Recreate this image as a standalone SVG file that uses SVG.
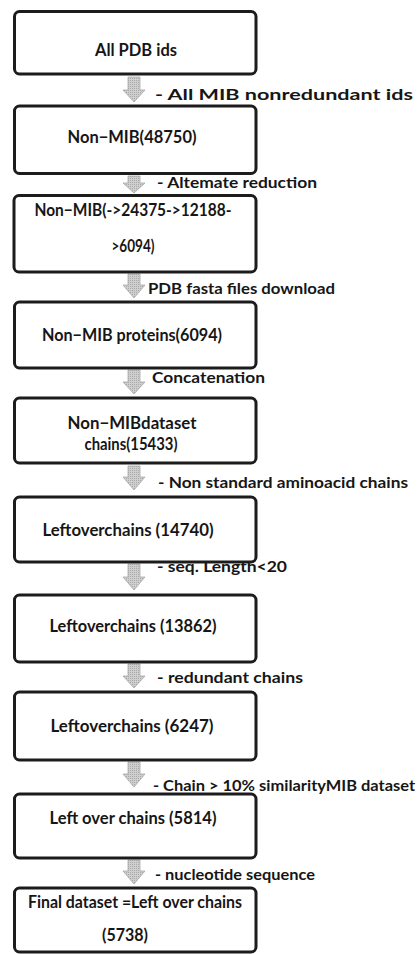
<svg xmlns="http://www.w3.org/2000/svg" width="417" height="954" viewBox="0 0 417 954">
  <style>
    .box { fill: #ffffff; stroke: #1c1c1c; stroke-width: 3; }
    .bt { font-family: Lato, "Open Sans", "Liberation Sans", sans-serif; font-weight: 700; font-size: 16.5px; fill: #161616; text-anchor: middle; }
    .lt { font-family: Lato, "Open Sans", "Liberation Sans", sans-serif; font-weight: 700; font-size: 15px; fill: #161616; }
    .arrow { fill: url(#stipple); stroke: #a8a8a8; stroke-width: 0.8; }
  </style>
  <defs>
    <pattern id="stipple" width="2" height="2" patternUnits="userSpaceOnUse">
      <rect width="2" height="2" fill="#cfcfcf"/>
      <rect width="1" height="1" fill="#a9a9a9"/>
    </pattern>
  </defs>
  <rect width="417" height="954" fill="#ffffff"/>

  <!-- block arrows between the steps, with their step labels -->
  <g id="connectors">
    <path class="arrow" d="M128,77 H140 V90 H145 L134,102 L123,90 H128 Z"/>
    <path class="arrow" d="M128,176 H140 V183 H145 L134,193 L123,183 H128 Z"/>
    <path class="arrow" d="M128,274 H140 V285 H145 L134,298 L123,285 H128 Z"/>
    <path class="arrow" d="M128,370 H140 V382 H145 L134,394 L123,382 H128 Z"/>
    <path class="arrow" d="M128,466 H140 V477 H145 L134,490 L123,477 H128 Z"/>
    <path class="arrow" d="M128,564 H140 V577 H145 L134,590 L123,577 H128 Z"/>
    <path class="arrow" d="M128,664 H140 V676 H145 L134,688 L123,676 H128 Z"/>
    <path class="arrow" d="M128,762 H140 V774 H145 L134,787 L123,774 H128 Z"/>
    <path class="arrow" d="M128,860 H140 V871 H145 L134,884 L123,871 H128 Z"/>

    <text class="lt" x="155" y="100" textLength="258" lengthAdjust="spacingAndGlyphs">-  All  MIB   nonredundant ids</text>
    <text class="lt" x="157" y="188" textLength="160" lengthAdjust="spacingAndGlyphs">- Altemate reduction</text>
    <text class="lt" x="148" y="294" textLength="187" lengthAdjust="spacingAndGlyphs">PDB   fasta files download</text>
    <text class="lt" x="152" y="383" textLength="113" lengthAdjust="spacingAndGlyphs">Concatenation</text>
    <text class="lt" x="158" y="488" textLength="250" lengthAdjust="spacingAndGlyphs">-  Non standard aminoacid chains</text>
    <text class="lt" x="157" y="572" textLength="130" lengthAdjust="spacingAndGlyphs">- seq. Length&lt;20</text>
    <text class="lt" x="157" y="683" textLength="146" lengthAdjust="spacingAndGlyphs">-  redundant chains</text>
    <text class="lt" x="153" y="791" textLength="262" lengthAdjust="spacingAndGlyphs">- Chain &gt; 10%  similarityMIB dataset</text>
    <text class="lt" x="155" y="880" textLength="160" lengthAdjust="spacingAndGlyphs">- nucleotide sequence</text>
  </g>

  <g id="all-pdb-ids">
    <rect class="box" x="14.5" y="11.5" width="241.5" height="62.5" rx="5"/>
    <text class="bt" x="136" y="56" textLength="82" lengthAdjust="spacingAndGlyphs">All PDB ids</text>
  </g>

  <g id="non-mib-48750">
    <rect class="box" x="14.5" y="106" width="241.5" height="67.5" rx="5"/>
    <text class="bt" x="132" y="143" textLength="129" lengthAdjust="spacingAndGlyphs">Non−MIB(48750)</text>
  </g>

  <g id="non-mib-reduced">
    <rect class="box" x="14" y="195.5" width="242" height="76.5" rx="5"/>
    <text class="bt" x="133" y="216" textLength="197" lengthAdjust="spacingAndGlyphs">Non−MIB(-&gt;24375-&gt;12188-</text>
    <text class="bt" x="133" y="252" textLength="43" lengthAdjust="spacingAndGlyphs">&gt;6094)</text>
  </g>

  <g id="non-mib-proteins">
    <rect class="box" x="14.5" y="302" width="241.5" height="66" rx="5"/>
    <text class="bt" x="132" y="341" textLength="180" lengthAdjust="spacingAndGlyphs">Non−MIB proteins(6094)</text>
  </g>

  <g id="non-mib-dataset">
    <rect class="box" x="14.5" y="398" width="241.5" height="65" rx="5"/>
    <text class="bt" x="132" y="429" textLength="129" lengthAdjust="spacingAndGlyphs">Non−MIBdataset</text>
    <text class="bt" x="131" y="450" textLength="93" lengthAdjust="spacingAndGlyphs">chains(15433)</text>
  </g>

  <g id="leftover-14740">
    <rect class="box" x="14.5" y="497" width="241.5" height="65" rx="5"/>
    <text class="bt" x="128" y="536" textLength="171" lengthAdjust="spacingAndGlyphs">Leftoverchains (14740)</text>
  </g>

  <g id="leftover-13862">
    <rect class="box" x="14.5" y="595" width="241.5" height="67" rx="5"/>
    <text class="bt" x="133" y="632" textLength="167" lengthAdjust="spacingAndGlyphs">Leftoverchains (13862)</text>
  </g>

  <g id="leftover-6247">
    <rect class="box" x="14.5" y="692" width="241.5" height="68" rx="5"/>
    <text class="bt" x="132" y="732" textLength="163" lengthAdjust="spacingAndGlyphs">Leftoverchains (6247)</text>
  </g>

  <g id="leftover-5814">
    <rect class="box" x="14.5" y="794" width="241.5" height="64" rx="5"/>
    <text class="bt" x="133" y="824" textLength="167" lengthAdjust="spacingAndGlyphs">Left over chains (5814)</text>
  </g>

  <g id="final-dataset">
    <rect class="box" x="14.5" y="888" width="241.5" height="64" rx="5"/>
    <text class="bt" x="135" y="908" textLength="214" lengthAdjust="spacingAndGlyphs">Final dataset =Left over chains</text>
    <text class="bt" x="125" y="941" textLength="46" lengthAdjust="spacingAndGlyphs">(5738)</text>
  </g>
</svg>
